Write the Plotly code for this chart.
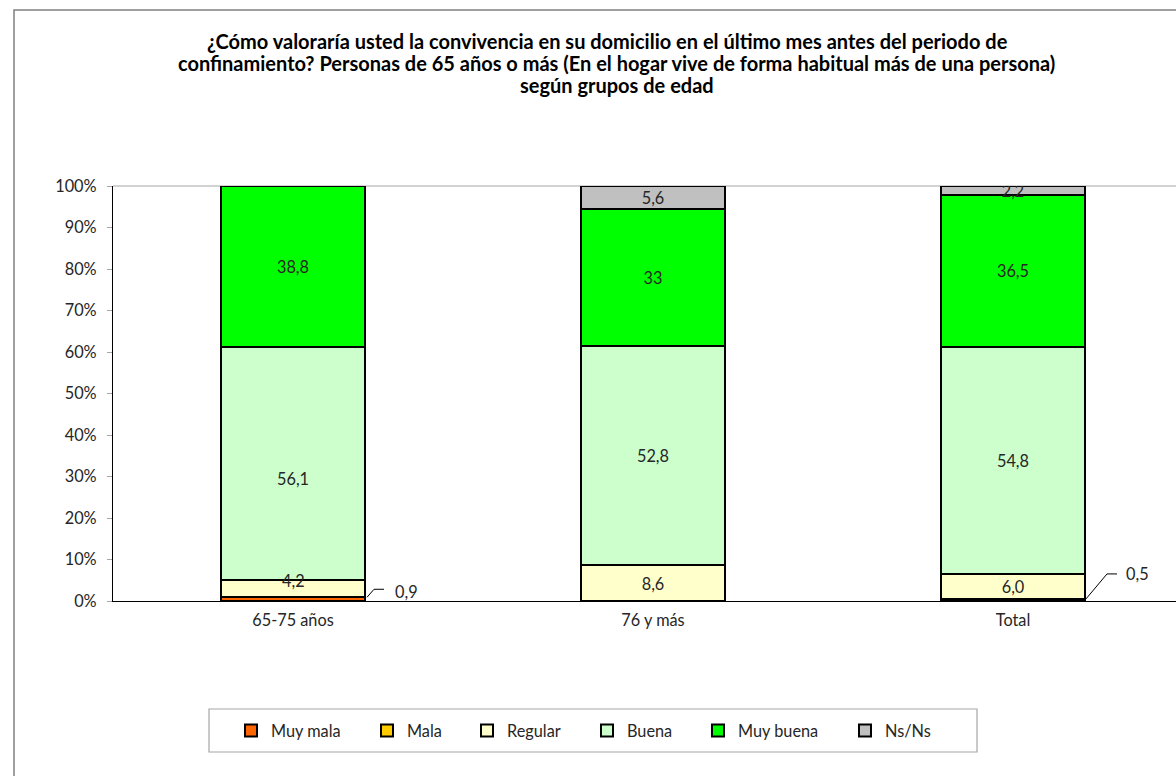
import plotly.graph_objects as go

categories = ["65-75 años", "76 y más", "Total"]
series_names = ["Muy mala", "Mala", "Regular", "Buena", "Muy buena", "Ns/Ns"]
muy_mala = [0.9, 0.0, 0.5]
mala = [0.0, 0.0, 0.0]
regular = [4.2, 8.6, 6.0]
buena = [56.1, 52.8, 54.8]
muy_buena = [38.8, 33.0, 36.5]
ns_ns = [0.0, 5.6, 2.2]

regular_labels = ["4,2", "8,6", "6,0"]
buena_labels = ["56,1", "52,8", "54,8"]
muy_buena_labels = ["38,8", "33", "36,5"]
ns_labels = ["", "5,6", "2,2"]
muy_mala_labels = ["0,9", "", "0,5"]

y_ticks = [0, 10, 20, 30, 40, 50, 60, 70, 80, 90, 100]
y_tick_labels = [f"{v}%" for v in y_ticks]

title_lines = [
    "¿Cómo valoraría usted la convivencia en su domicilio en el último mes antes del periodo de",
    "confinamiento? Personas de 65 años o más (En el hogar vive de forma habitual más de una persona)",
    "según grupos de edad",
]

colors = ["#FF6600", "#FFCC00", "#FFFFCC", "#CCFFCC", "#00FF00", "#C0C0C0"]
values = [muy_mala, mala, regular, buena, muy_buena, ns_ns]
labels = [[""] * 3, [""] * 3, regular_labels, buena_labels, muy_buena_labels, ns_labels]

FONT = "Lato, 'Open Sans', sans-serif"
TXT = "#262626"
FS = 16.3
W, H = 1176, 776
L, R, T, B = 113, 0, 186, 175
PW, PH = W - L - R, H - T - B
BAR_W = 0.4

# labels that the original places off-centre in their segment: (series, point) -> pixel shift
moved_labels = {(2, 0): 8, (3, 0): -15}

def px_to_paper_x(px):
    return (px - L) / PW

def px_to_paper_y(py):
    return (H - B - py) / PH

annotations = []
fig = go.Figure()
legend_text_starts = [271, 407, 507, 627, 738, 885]
for i, (name, vals, col, lab) in enumerate(zip(series_names, values, colors, labels)):
    lg = "legend" if i == 0 else f"legend{i+1}"
    txt = list(lab)
    for (s, p), shift in moved_labels.items():
        if s == i:
            base = sum(values[k][p] for k in range(i))
            annotations.append(dict(x=categories[p], y=base + vals[p] / 2, xref="x", yref="y",
                                    text=lab[p], showarrow=False, yshift=shift,
                                    font=dict(family=FONT, size=FS, color=TXT)))
            txt[p] = ""
    fig.add_trace(go.Bar(
        name=name, x=categories, y=vals, width=BAR_W,
        marker=dict(color=col, line=dict(color="black", width=2)),
        text=txt, textposition="inside", insidetextanchor="middle",
        constraintext="none", textangle=0,
        textfont=dict(family=FONT, size=FS, color=TXT),
        hoverinfo="x+y+name", legend=lg, showlegend=True,
    ))

legend_layouts = {}
for i, xs in enumerate(legend_text_starts):
    key = "legend" if i == 0 else f"legend{i+1}"
    legend_layouts[key] = dict(
        x=px_to_paper_x(xs - 40), xanchor="left",
        y=px_to_paper_y(731), yanchor="middle",
        orientation="h", bgcolor="rgba(0,0,0,0)", borderwidth=0,
        font=dict(family=FONT, size=FS, color=TXT),
        itemwidth=30,
    )

shapes = [
    dict(type="rect", xref="paper", yref="paper",
         x0=px_to_paper_x(14), x1=px_to_paper_x(W + 50),
         y0=px_to_paper_y(H + 50), y1=px_to_paper_y(10),
         line=dict(color="#808080", width=1.5), layer="below"),
    dict(type="line", xref="paper", yref="y domain", x0=0, x1=1, y0=1, y1=1,
         line=dict(color="#A6A6A6", width=1), layer="below"),
    dict(type="rect", xref="paper", yref="paper",
         x0=px_to_paper_x(209), x1=px_to_paper_x(977),
         y0=px_to_paper_y(752), y1=px_to_paper_y(709),
         line=dict(color="#A6A6A6", width=1.2)),
]

title_centers = [(607, 41), (616, 63), (617, 85)]
for line, (cx, cy) in zip(title_lines, title_centers):
    annotations.append(dict(text=f"<b>{line}</b>", xref="paper", yref="paper",
                            x=px_to_paper_x(cx), y=px_to_paper_y(cy),
                            xanchor="center", yanchor="middle", showarrow=False,
                            font=dict(family=FONT, size=20, color="black")))

leader_specs = {0: ("M2,0 L9,8 L19,8", 28, 6), 2: ("M1,0 L22,25 L32,25", 39, 25)}
for idx, (path, xs, ys) in leader_specs.items():
    xa = idx + BAR_W / 2
    ya = muy_mala[idx]
    shapes.append(dict(type="path", xref="x", yref="y", xsizemode="pixel",
                       ysizemode="pixel", xanchor=xa, yanchor=ya, path=path,
                       line=dict(color="black", width=1)))
    annotations.append(dict(x=xa, y=ya, xref="x", yref="y", text=muy_mala_labels[idx],
                            showarrow=False, xanchor="left", yanchor="middle",
                            xshift=xs, yshift=ys,
                            font=dict(family=FONT, size=FS, color=TXT)))

fig.update_layout(
    width=W, height=H,
    margin=dict(l=L, r=R, t=T, b=B),
    barmode="stack", bargap=0.6, showlegend=True,
    paper_bgcolor="white", plot_bgcolor="white",
    font=dict(family=FONT, size=FS, color=TXT),
    xaxis=dict(type="category", range=[-0.5, (W - L) / 360 - 0.5],
               showline=True, linecolor="black", linewidth=1.2,
               ticks="outside", ticklen=4, tickcolor="rgba(0,0,0,0)",
               showgrid=False, tickfont=dict(family=FONT, size=FS, color=TXT)),
    yaxis=dict(range=[0, 100], tickmode="array", tickvals=y_ticks, ticktext=y_tick_labels,
               showline=True, linecolor="black", linewidth=1.2,
               ticks="outside", ticklen=5, tickcolor="#A6A6A6",
               showgrid=False, zeroline=False, ticklabelstandoff=7,
               tickfont=dict(family=FONT, size=FS, color=TXT)),
    shapes=shapes, annotations=annotations,
    **legend_layouts,
)

fig.write_html("out.html", config={"displayModeBar": False},
               post_script="document.body.style.margin='0';document.body.style.overflow='hidden';")
